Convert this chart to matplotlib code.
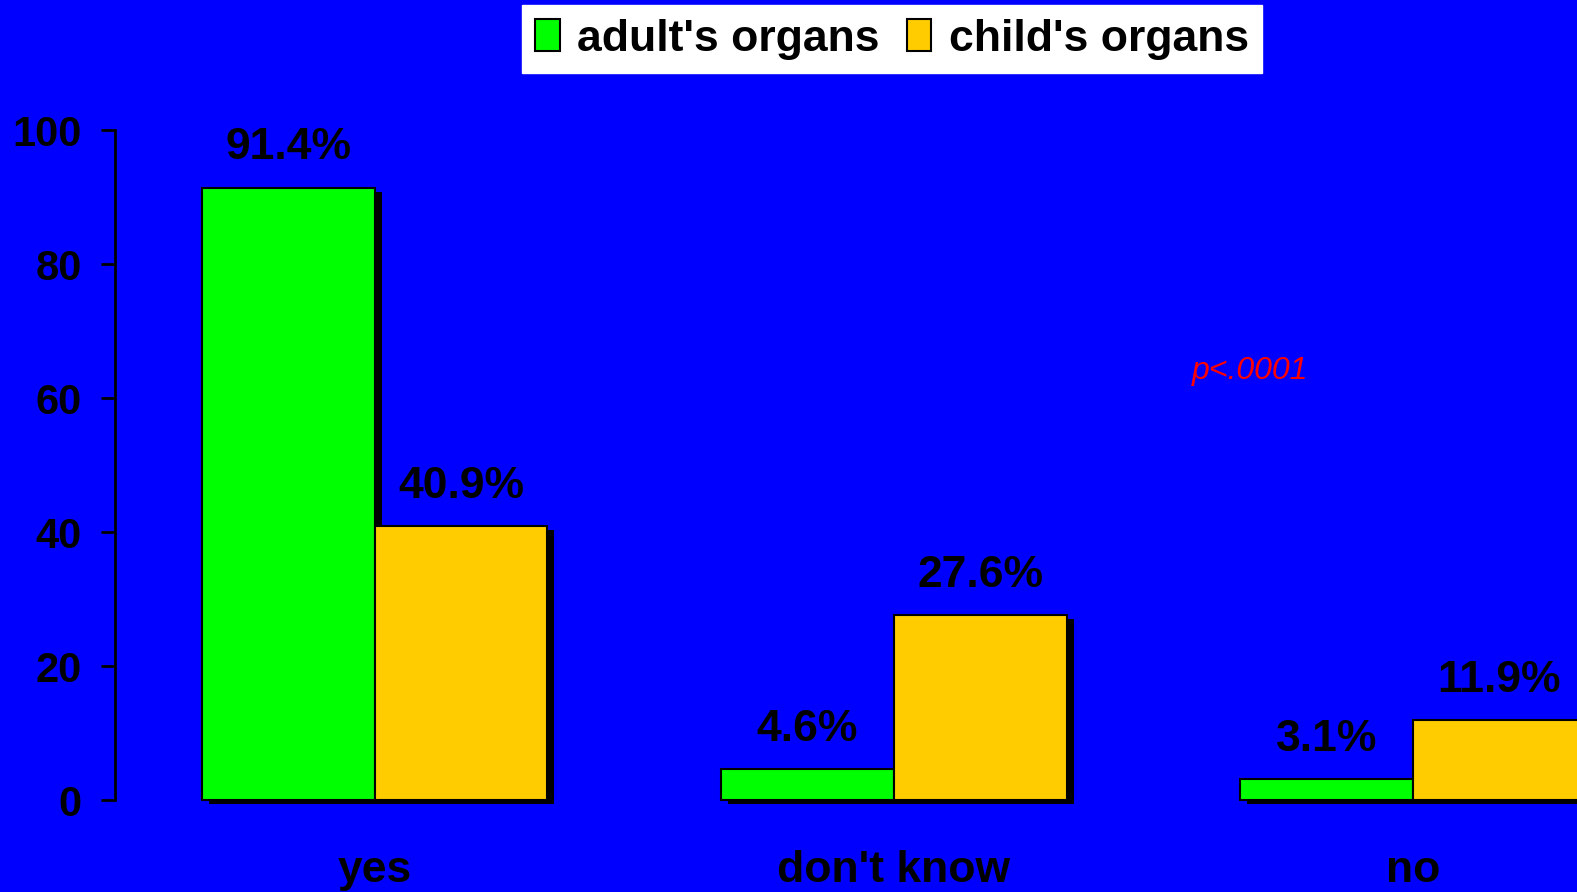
import matplotlib
matplotlib.use('Agg')
import matplotlib.pyplot as plt
import matplotlib.patheffects as pe
import numpy as np

categories = ["yes", "don't know", "no"]
adult = [91.4, 4.6, 3.1]
child = [40.9, 27.6, 11.9]
series_names = ["adult's organs", "child's organs"]
y_ticks = [0, 20, 40, 60, 80, 100]

blue = '#0000FF'
green = '#00FF00'
yellow = '#FFCC00'

plt.rcParams['font.family'] = ['Liberation Sans', 'DejaVu Sans']

fig = plt.figure(figsize=(15.77, 8.92), dpi=100, facecolor=blue)
ax = fig.add_axes([115 / 1577, 92 / 892, 1 - 115 / 1577, 670 / 892])
ax.set_facecolor(blue)

x = np.arange(len(categories))
w = 0.333
shadow = [pe.SimplePatchShadow(offset=(5, -3), shadow_rgbFace='black', alpha=1.0), pe.Normal()]
b1 = ax.bar(x - w / 2, adult, w, color=green, edgecolor='black', linewidth=1.5,
            label=series_names[0], path_effects=shadow, clip_on=False)
b2 = ax.bar(x + w / 2, child, w, color=yellow, edgecolor='black', linewidth=1.5,
            label=series_names[1], path_effects=shadow, clip_on=False)

for bars, vals in ((b1, adult), (b2, child)):
    for bar, v in zip(bars, vals):
        ax.annotate(f"{v}%", (bar.get_x() + bar.get_width() / 2, v),
                    xytext=(0, 14), textcoords='offset points', ha='center', va='bottom',
                    fontsize=32, fontweight='bold', color='black')

ax.set_xlim(-0.5, 2.316)
ax.set_ylim(0, 100)
ax.set_yticks(y_ticks)
ax.set_yticklabels([str(t) for t in y_ticks], fontsize=30, fontweight='bold')
ax.set_xticks(x)
ax.set_xticklabels(categories, fontsize=32, fontweight='bold')
ax.tick_params(axis='x', length=0, pad=36)
ax.tick_params(axis='y', length=10, width=2, direction='out', pad=14, colors='black')
for s in ('top', 'right', 'bottom'):
    ax.spines[s].set_visible(False)
ax.spines['left'].set_linewidth(2)

ax.text(1.686, 64, "p<.0001", color='red', fontsize=23, fontstyle='italic',
        ha='center', va='center')

leg = fig.legend(loc='center', bbox_to_anchor=(892 / 1577, 1 - 39 / 892), ncol=2,
                 frameon=True, fancybox=False, edgecolor='white', facecolor='white',
                 framealpha=1, handlelength=0.55, handleheight=0.7, handletextpad=0.4,
                 columnspacing=0.6, borderpad=0.3, borderaxespad=0,
                 prop={'size': 32, 'weight': 'bold'})
for h in leg.legend_handles:
    h.set_path_effects([])

fig.savefig('out.png', dpi=100, facecolor=blue)
